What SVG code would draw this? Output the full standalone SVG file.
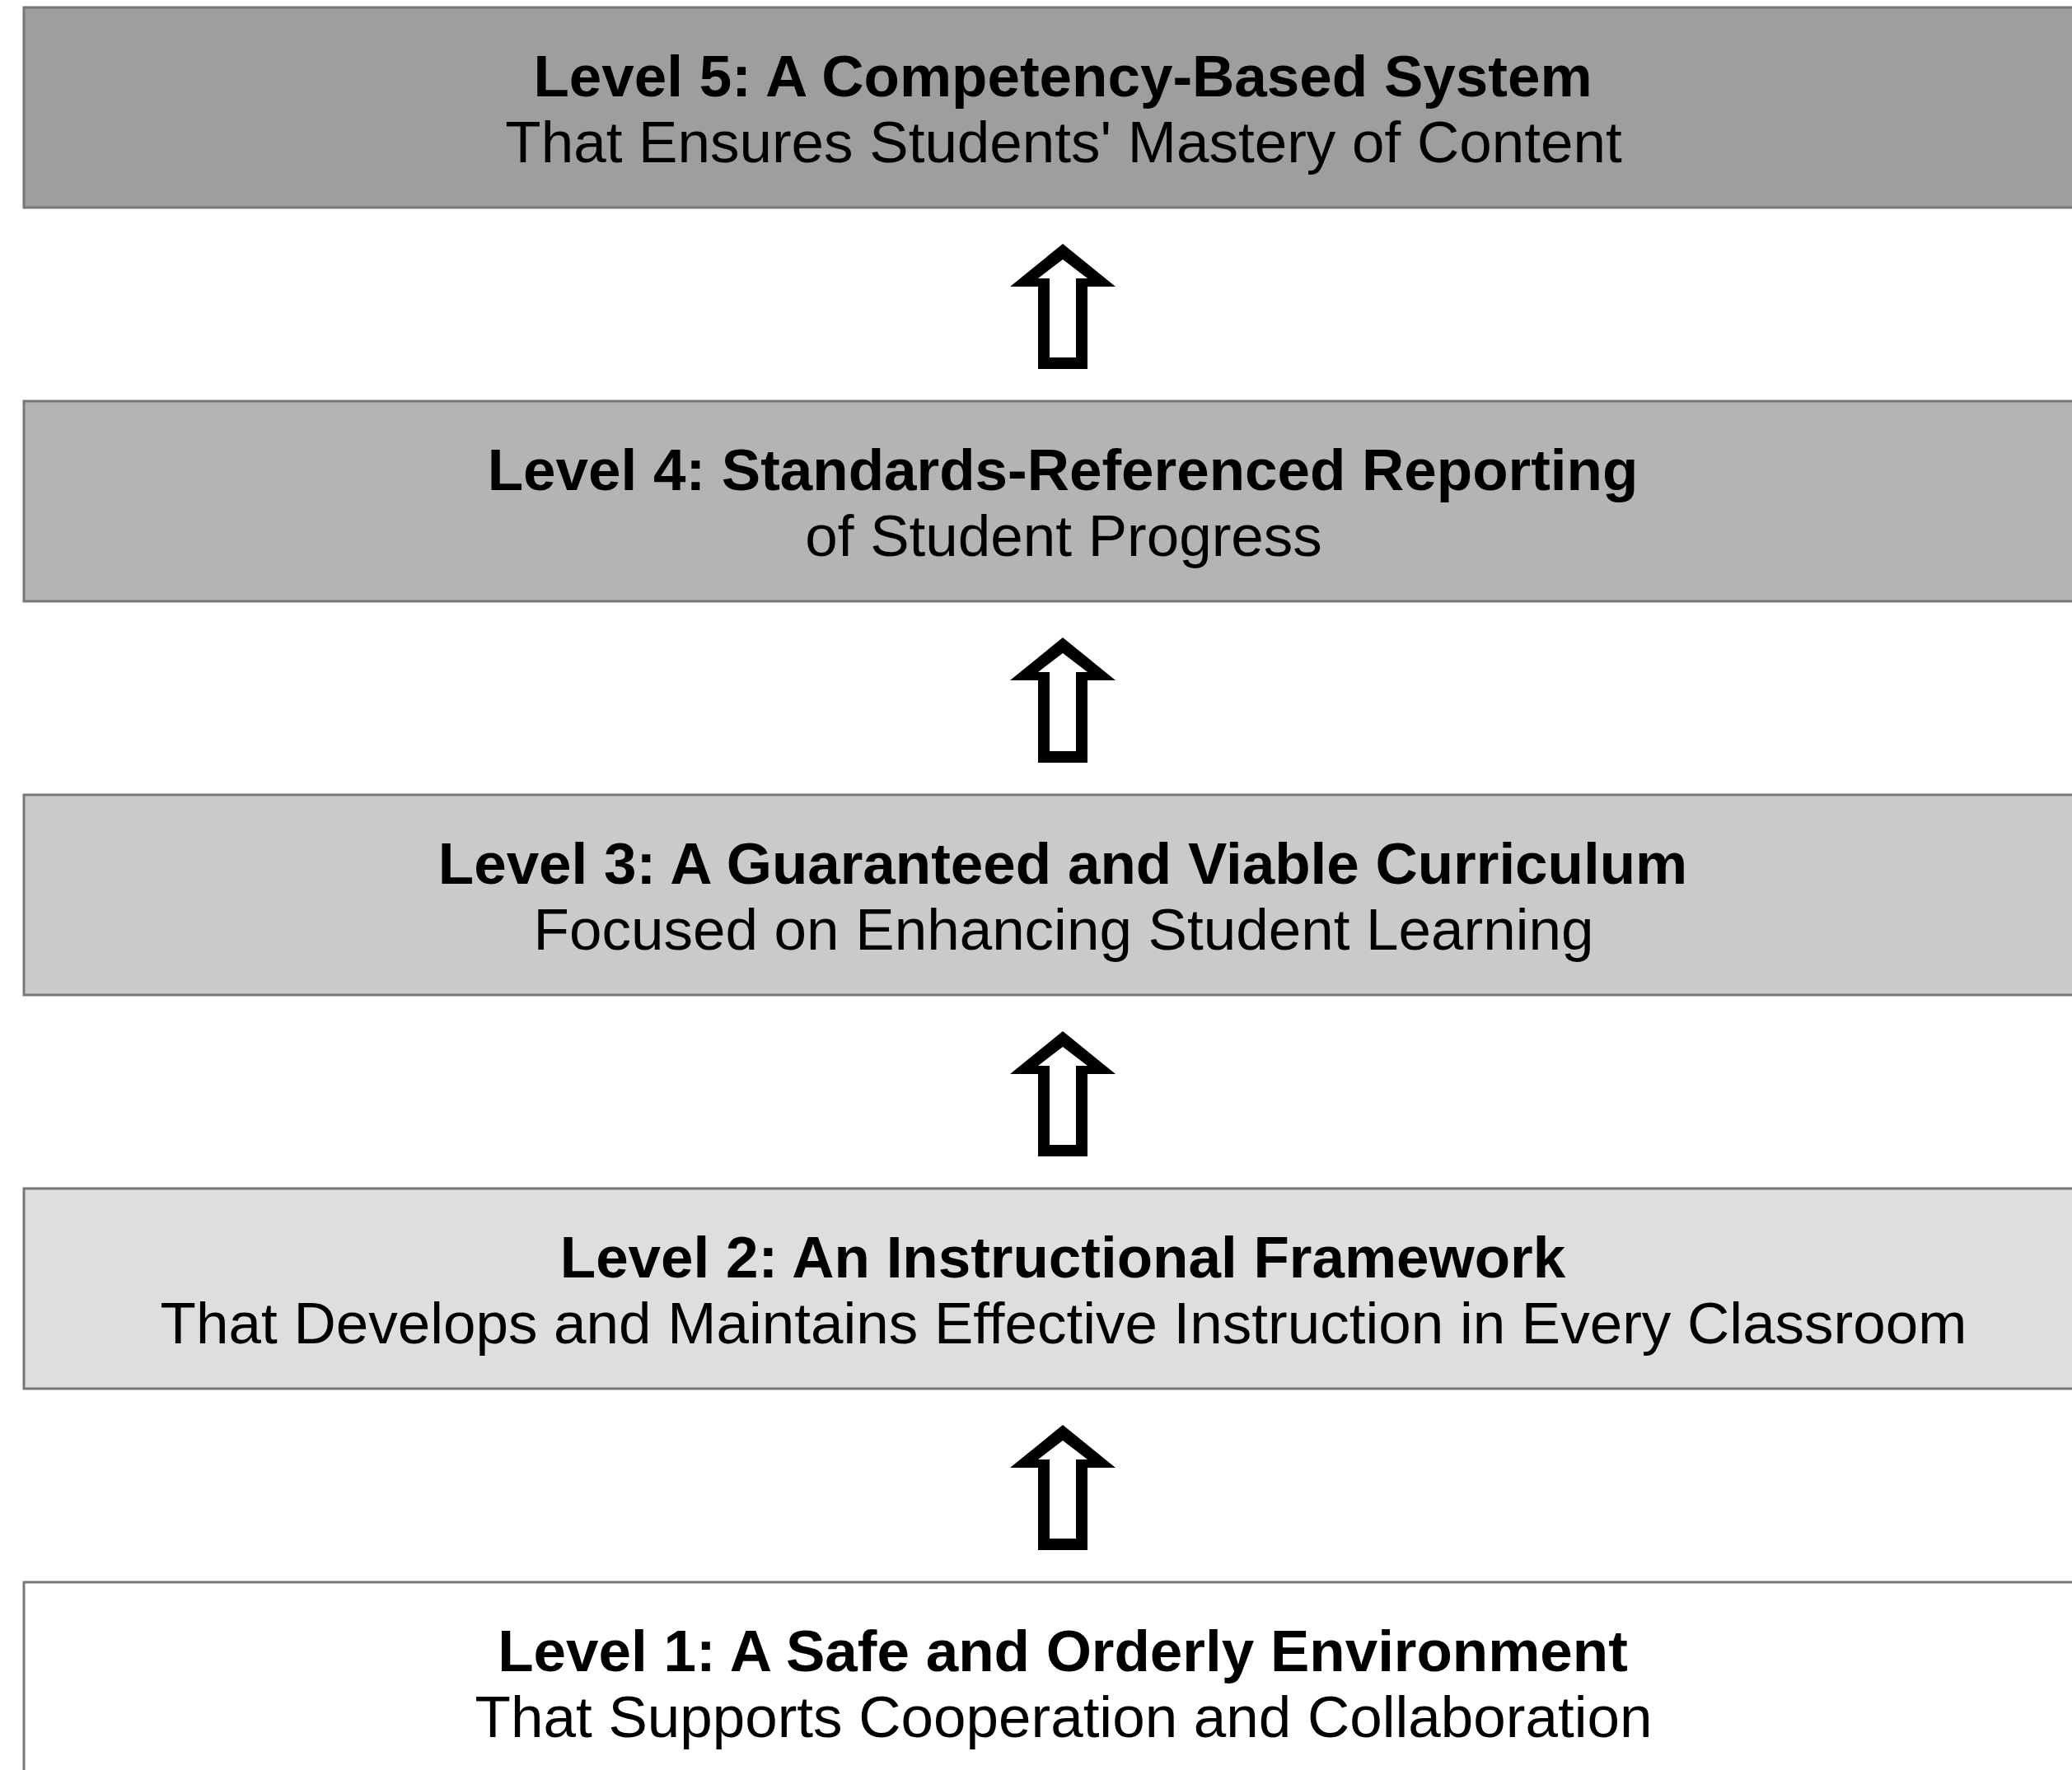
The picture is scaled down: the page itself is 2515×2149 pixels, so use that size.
<svg xmlns="http://www.w3.org/2000/svg" width="2515" height="2149" viewBox="0 0 2515 2149">
<style>
.box{stroke:#777;stroke-width:3}
.t1{font-family:"Liberation Sans",Arial,sans-serif;font-weight:bold;font-size:71px;fill:#000;text-anchor:middle}
.t2{font-family:"Liberation Sans",Arial,sans-serif;font-size:71px;fill:#000;text-anchor:middle}
</style>
<defs>
<path id="arrow" fill="#000" fill-rule="evenodd" d="M0,-2 L-64,50 L-30,50 L-30,150 L30,150 L30,50 L64,50 Z M0,17 L-30,40 L-16,40 L-16,136 L16,136 L16,40 L30,40 Z"/>
</defs>
<rect width="2515" height="2149" fill="#fff"/>
<g id="level5">
<rect class="box" x="29" y="9" width="2520" height="243" fill="#9e9e9e"/>
<text class="t1" x="1290" y="117">Level 5: A Competency-Based System</text>
<text class="t2" x="1291" y="197">That Ensures Students' Mastery of Content</text>
</g>
<g id="level4">
<rect class="box" x="29" y="487" width="2520" height="243" fill="#b4b4b4"/>
<text class="t1" x="1290" y="595">Level 4: Standards-Referenced Reporting</text>
<text class="t2" x="1291" y="675">of Student Progress</text>
</g>
<g id="level3">
<rect class="box" x="29" y="965" width="2520" height="243" fill="#cacaca"/>
<text class="t1" x="1290" y="1073">Level 3: A Guaranteed and Viable Curriculum</text>
<text class="t2" x="1291" y="1153">Focused on Enhancing Student Learning</text>
</g>
<g id="level2">
<rect class="box" x="29" y="1443" width="2520" height="243" fill="#dedede"/>
<text class="t1" x="1290" y="1551">Level 2: An Instructional Framework</text>
<text class="t2" x="1291" y="1631">That Develops and Maintains Effective Instruction in Every Classroom</text>
</g>
<g id="level1">
<rect class="box" x="29" y="1921" width="2520" height="300" fill="#ffffff"/>
<text class="t1" x="1290" y="2029">Level 1: A Safe and Orderly Environment</text>
<text class="t2" x="1291" y="2109">That Supports Cooperation and Collaboration</text>
</g>
<g id="connectors">
<use href="#arrow" x="1290" y="298"/>
<use href="#arrow" x="1290" y="776"/>
<use href="#arrow" x="1290" y="1254"/>
<use href="#arrow" x="1290" y="1732"/>
</g>
</svg>
